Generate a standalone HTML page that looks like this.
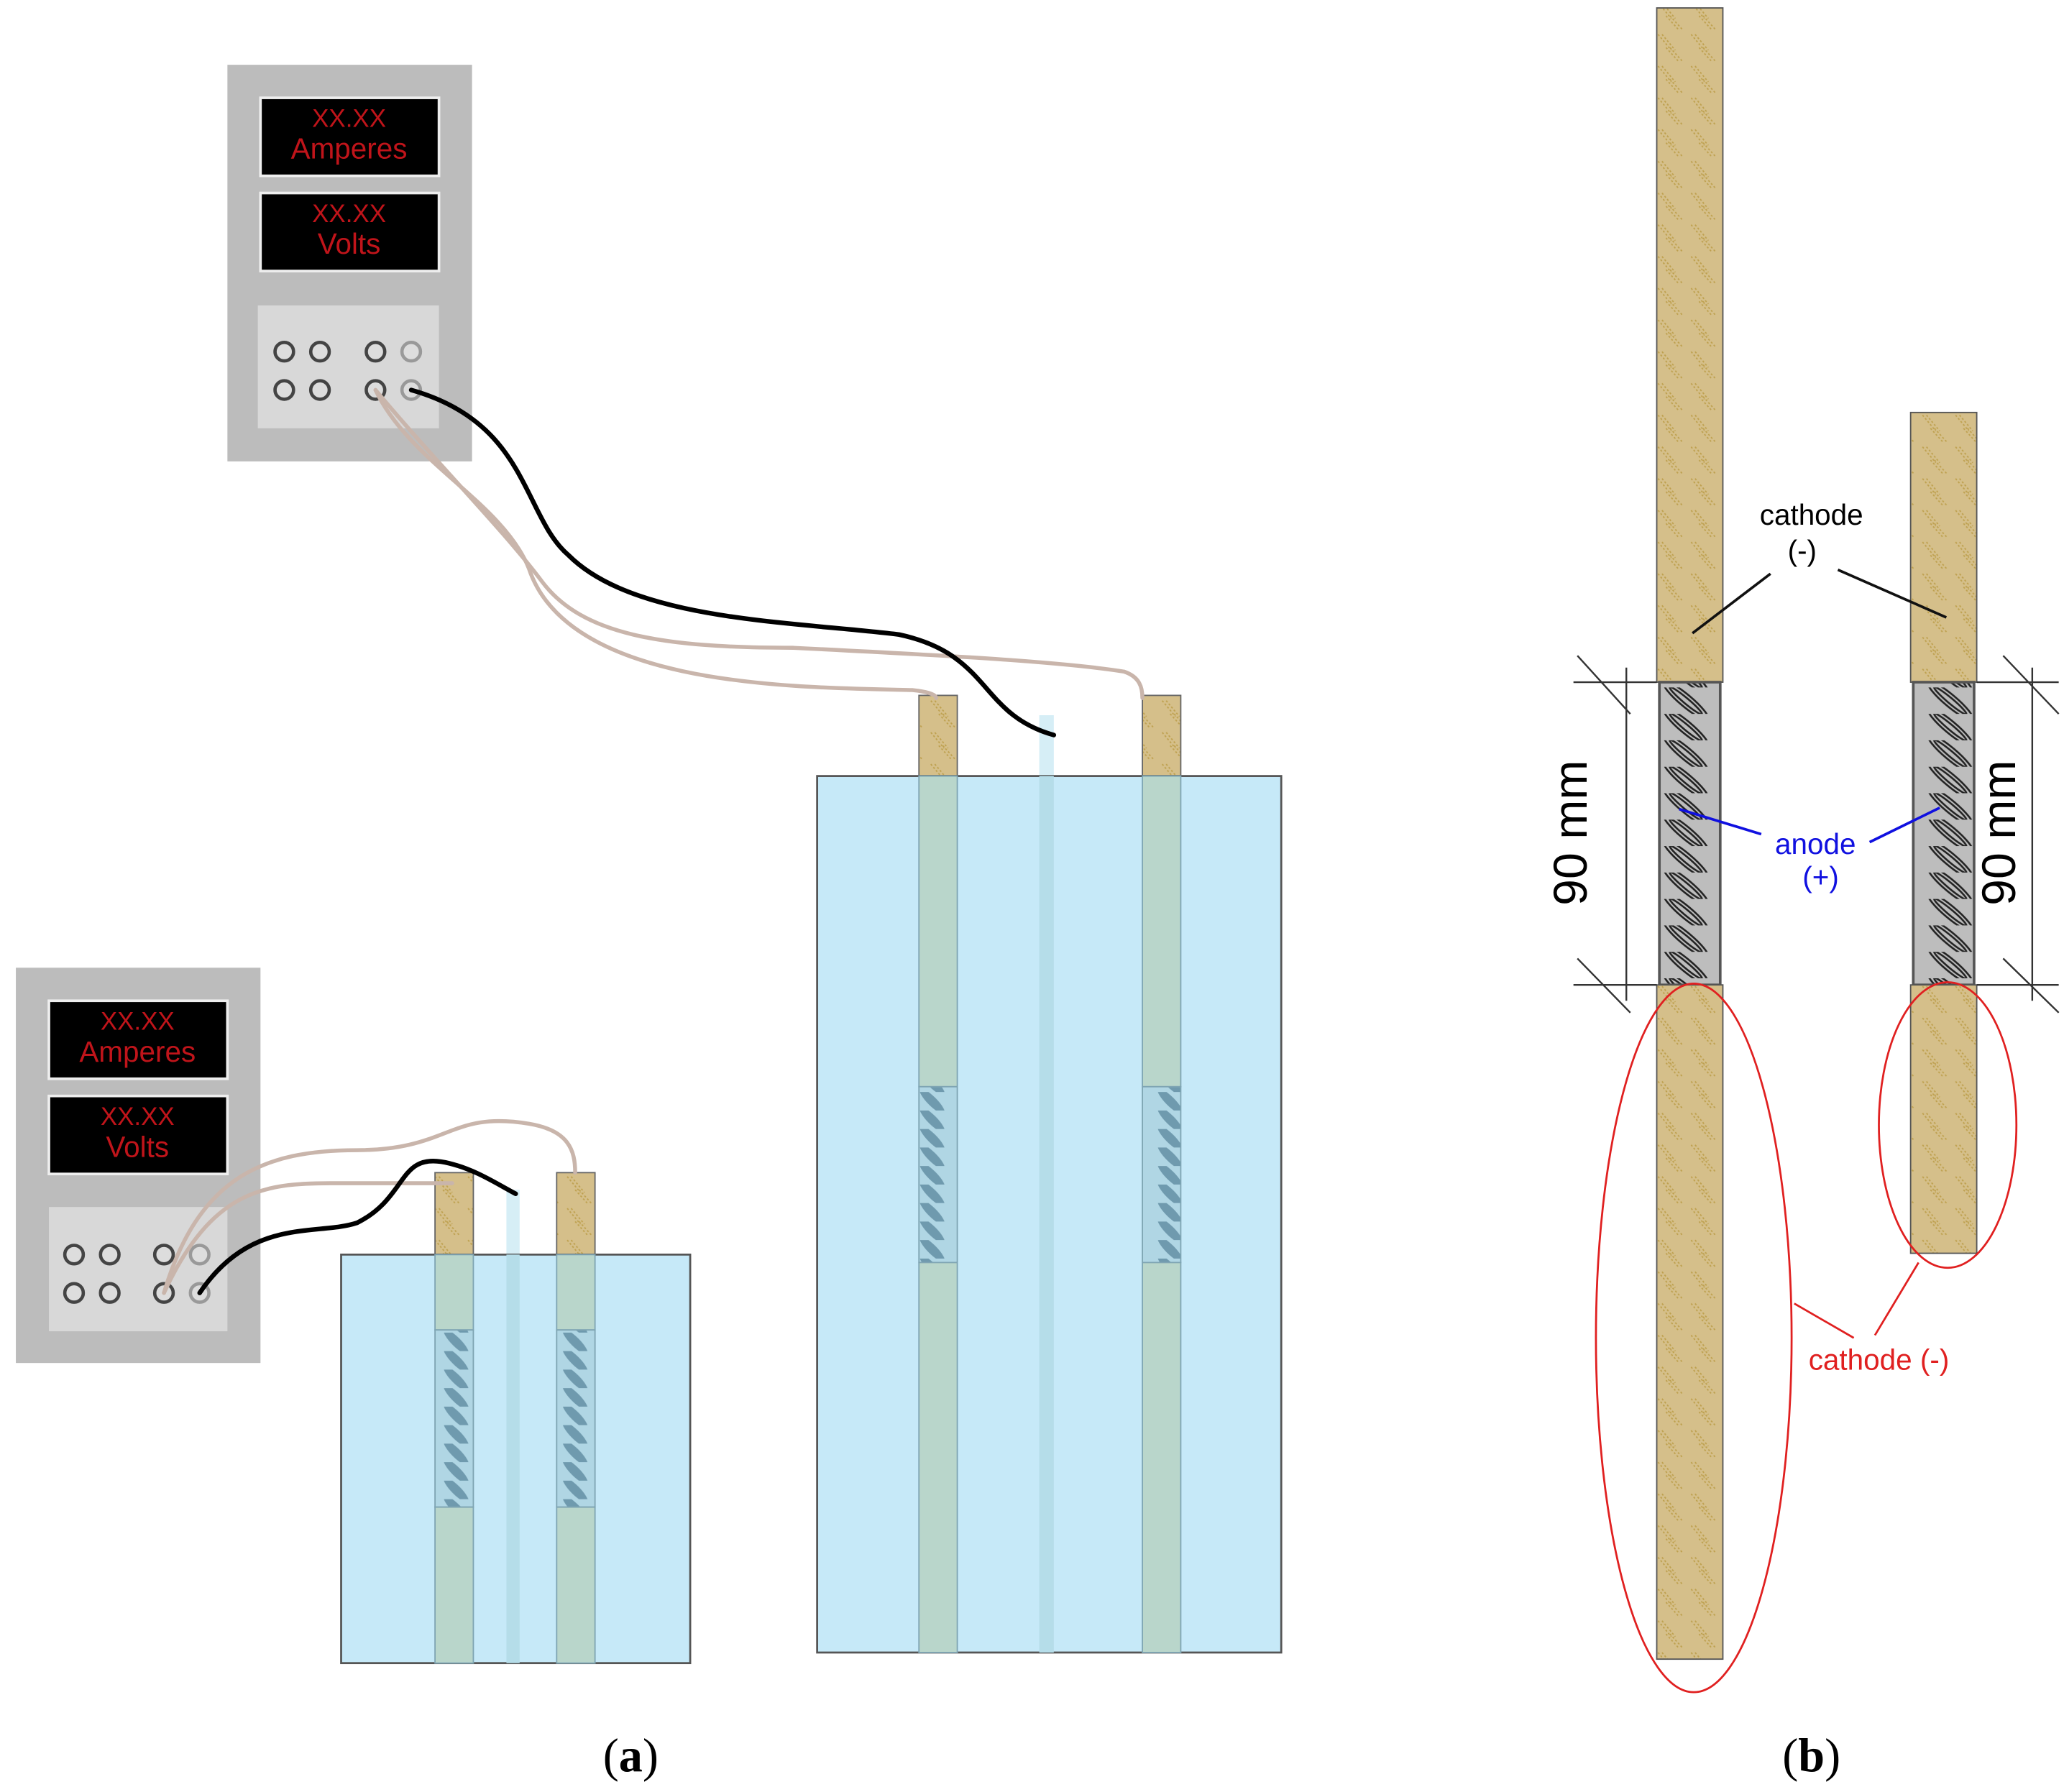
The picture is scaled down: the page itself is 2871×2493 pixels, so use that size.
<!DOCTYPE html>
<html><head><meta charset="utf-8"><style>
html,body{margin:0;padding:0;background:#fff;}
svg{display:block;}
text{font-family:"Liberation Sans",sans-serif;}
</style></head><body>
<svg width="2871" height="2493" viewBox="0 0 1561 1355.5" preserveAspectRatio="none" xmlns="http://www.w3.org/2000/svg">
<defs>
<pattern id="wood" width="25" height="24" patternUnits="userSpaceOnUse">
<rect width="25" height="24" fill="#d5bf8a"/>
<g stroke="#b8993f" stroke-width="1" stroke-dasharray="1.5 1.5" opacity="0.8">
<line x1="4" y1="2" x2="14" y2="14"/><line x1="7" y1="2" x2="17" y2="14"/><line x1="10" y1="12" x2="20" y2="23"/><line x1="13" y1="12" x2="23" y2="23"/>
</g></pattern>
<pattern id="rebar" width="50" height="20" patternUnits="userSpaceOnUse">
<rect width="50" height="20" fill="#bdbdbd"/>
<g fill="none" stroke="#222" stroke-width="1.4">
<ellipse cx="25" cy="10" rx="22" ry="4.5" transform="rotate(40 25 10)"/>
<ellipse cx="25" cy="10" rx="16" ry="2" transform="rotate(40 25 10)"/>
</g></pattern>
<pattern id="rebarw" width="30" height="14" patternUnits="userSpaceOnUse">
<rect width="30" height="14" fill="#b0d6e4"/>
<ellipse cx="15" cy="7" rx="13" ry="3.5" fill="#6f9aae" transform="rotate(45 15 7)"/>
</pattern>
</defs>

<!-- meter 1 -->
<rect x="172" y="49" width="185" height="300" fill="#bcbcbc"/>
<rect x="197" y="74" width="135" height="59" fill="#000" stroke="#eee" stroke-width="2"/>
<rect x="197" y="146" width="135" height="59" fill="#000" stroke="#eee" stroke-width="2"/>
<text x="264" y="96" fill="#c0141a" font-size="19" text-anchor="middle">XX.XX</text>
<text x="264" y="120" fill="#c0141a" font-size="22" text-anchor="middle">Amperes</text>
<text x="264" y="168" fill="#c0141a" font-size="19" text-anchor="middle">XX.XX</text>
<text x="264" y="192" fill="#c0141a" font-size="22" text-anchor="middle">Volts</text>
<rect x="195" y="231" width="137" height="93" fill="#d8d8d8"/>
<g fill="#ddd" stroke="#444" stroke-width="2.5">
<circle cx="215" cy="266" r="7"/><circle cx="242" cy="266" r="7"/><circle cx="284" cy="266" r="7"/><circle cx="311" cy="266" r="7" stroke="#999"/>
<circle cx="215" cy="295" r="7"/><circle cx="242" cy="295" r="7"/><circle cx="284" cy="295" r="7"/><circle cx="311" cy="295" r="7" stroke="#999"/>
</g>

<!-- meter 2 -->
<rect x="12" y="732" width="185" height="299" fill="#bcbcbc"/>
<rect x="37" y="757" width="135" height="59" fill="#000" stroke="#eee" stroke-width="2"/>
<rect x="37" y="829" width="135" height="59" fill="#000" stroke="#eee" stroke-width="2"/>
<text x="104" y="779" fill="#c0141a" font-size="19" text-anchor="middle">XX.XX</text>
<text x="104" y="803" fill="#c0141a" font-size="22" text-anchor="middle">Amperes</text>
<text x="104" y="851" fill="#c0141a" font-size="19" text-anchor="middle">XX.XX</text>
<text x="104" y="875" fill="#c0141a" font-size="22" text-anchor="middle">Volts</text>
<rect x="37" y="913" width="135" height="94" fill="#d8d8d8"/>
<g fill="#ddd" stroke="#444" stroke-width="2.5">
<circle cx="56" cy="949" r="7"/><circle cx="83" cy="949" r="7"/><circle cx="124" cy="949" r="7"/><circle cx="151" cy="949" r="7" stroke="#999"/>
<circle cx="56" cy="978" r="7"/><circle cx="83" cy="978" r="7"/><circle cx="124" cy="978" r="7"/><circle cx="151" cy="978" r="7" stroke="#999"/>
</g>

<!-- big tank -->
<rect x="695" y="526" width="29" height="62" fill="url(#wood)" stroke="#666"/>
<rect x="864" y="526" width="29" height="62" fill="url(#wood)" stroke="#666"/>
<rect x="786" y="541" width="11" height="46" fill="#d6eef6"/>
<rect x="618" y="587" width="351" height="663" fill="#c6e9f8" stroke="#555" stroke-width="1.5"/>
<rect x="786" y="587" width="11" height="663" fill="#b5dde9"/>
<g stroke="#7fa5b3">
<rect x="695" y="587" width="29" height="235" fill="#b9d6cb"/><rect x="695" y="822" width="29" height="133" fill="url(#rebarw)"/><rect x="695" y="955" width="29" height="295" fill="#b9d6cb"/>
<rect x="864" y="587" width="29" height="235" fill="#b9d6cb"/><rect x="864" y="822" width="29" height="133" fill="url(#rebarw)"/><rect x="864" y="955" width="29" height="295" fill="#b9d6cb"/>
</g>

<!-- small tank -->
<rect x="329" y="887" width="29" height="62" fill="url(#wood)" stroke="#666"/>
<rect x="421" y="887" width="29" height="62" fill="url(#wood)" stroke="#666"/>
<rect x="383" y="900" width="10" height="49" fill="#d6eef6"/>
<rect x="258" y="949" width="264" height="309" fill="#c6e9f8" stroke="#555" stroke-width="1.5"/>
<rect x="383" y="949" width="10" height="309" fill="#b5dde9"/>
<g stroke="#7fa5b3">
<rect x="329" y="949" width="29" height="57" fill="#b9d6cb"/><rect x="329" y="1006" width="29" height="134" fill="url(#rebarw)"/><rect x="329" y="1140" width="29" height="118" fill="#b9d6cb"/>
<rect x="421" y="949" width="29" height="57" fill="#b9d6cb"/><rect x="421" y="1006" width="29" height="134" fill="url(#rebarw)"/><rect x="421" y="1140" width="29" height="118" fill="#b9d6cb"/>
</g>

<!-- wires -->
<g fill="none" stroke-linecap="round">
<path d="M284,295 C330,350 380,400 410,440 C440,480 500,490 600,490 C700,495 800,500 850,508 C862,512 864,520 864,528" stroke="#c9b5ab" stroke-width="3"/>
<path d="M284,295 C310,350 380,380 400,430 C430,520 600,520 690,522 C700,523 708,525 708,528" stroke="#c9b5ab" stroke-width="3"/>
<path d="M311,295 C400,320 395,390 430,420 C480,470 600,470 680,480 C750,495 740,540 797,556" stroke="#000" stroke-width="3.5"/>
<path d="M124,978 C150,890 200,870 270,870 C340,870 340,840 400,850 C430,855 435,870 435,887" stroke="#c9b5ab" stroke-width="3"/>
<path d="M124,978 C160,900 200,895 250,895 C300,895 320,895 342,895" stroke="#c9b5ab" stroke-width="3"/>
<path d="M151,978 C190,920 240,935 270,925 C310,905 300,870 340,880 C360,885 375,895 390,903" stroke="#000" stroke-width="3.5"/>
</g>

<!-- (b) rods -->
<rect x="1253" y="6" width="50" height="510" fill="url(#wood)" stroke="#555"/>
<rect x="1255" y="516" width="46" height="229" fill="url(#rebar)" stroke="#555" stroke-width="2"/>
<rect x="1253" y="745" width="50" height="510" fill="url(#wood)" stroke="#555"/>
<rect x="1445" y="312" width="50" height="204" fill="url(#wood)" stroke="#555"/>
<rect x="1447" y="516" width="46" height="229" fill="url(#rebar)" stroke="#555" stroke-width="2"/>
<rect x="1445" y="745" width="50" height="203" fill="url(#wood)" stroke="#555"/>

<!-- dimensions -->
<g stroke="#333" stroke-width="1.3">
<line x1="1230" y1="505" x2="1230" y2="757"/>
<line x1="1190" y1="516" x2="1253" y2="516"/><line x1="1190" y1="745" x2="1253" y2="745"/>
<line x1="1193" y1="496" x2="1233" y2="540"/><line x1="1193" y1="725" x2="1233" y2="766"/>
<line x1="1537" y1="505" x2="1537" y2="757"/>
<line x1="1495" y1="516" x2="1557" y2="516"/><line x1="1495" y1="745" x2="1557" y2="745"/>
<line x1="1515" y1="496" x2="1557" y2="540"/><line x1="1515" y1="725" x2="1557" y2="766"/>
</g>
<text transform="translate(1200,630) rotate(-90)" font-size="36" text-anchor="middle">90 mm</text>
<text transform="translate(1524,630) rotate(-90)" font-size="36" text-anchor="middle">90 mm</text>

<!-- labels -->
<text x="1370" y="397" font-size="22" text-anchor="middle">cathode</text>
<text x="1363" y="424" font-size="22" text-anchor="middle">(-)</text>
<g stroke="#111" stroke-width="2"><line x1="1339" y1="434" x2="1280" y2="479"/><line x1="1390" y1="431" x2="1472" y2="467"/></g>
<text x="1373" y="646" font-size="22" text-anchor="middle" fill="#1010e0">anode</text>
<text x="1377" y="671" font-size="22" text-anchor="middle" fill="#1010e0">(+)</text>
<g stroke="#1010e0" stroke-width="2"><line x1="1270" y1="612" x2="1332" y2="631"/><line x1="1414" y1="637" x2="1467" y2="611"/></g>

<g fill="none" stroke="#e02020" stroke-width="1.5">
<ellipse cx="1281" cy="1012" rx="74" ry="268"/>
<ellipse cx="1473" cy="851" rx="52" ry="108"/>
<line x1="1357" y1="986" x2="1402" y2="1012"/><line x1="1451" y1="955" x2="1418" y2="1010"/>
</g>
<text x="1421" y="1036" font-size="22" text-anchor="middle" fill="#e02020">cathode (-)</text>

<text x="477" y="1340" font-size="36" text-anchor="middle" style="font-family:'Liberation Serif',serif">(<tspan font-weight="bold">a</tspan>)</text>
<text x="1370" y="1340" font-size="36" text-anchor="middle" style="font-family:'Liberation Serif',serif">(<tspan font-weight="bold">b</tspan>)</text>
</svg>
</body></html>
